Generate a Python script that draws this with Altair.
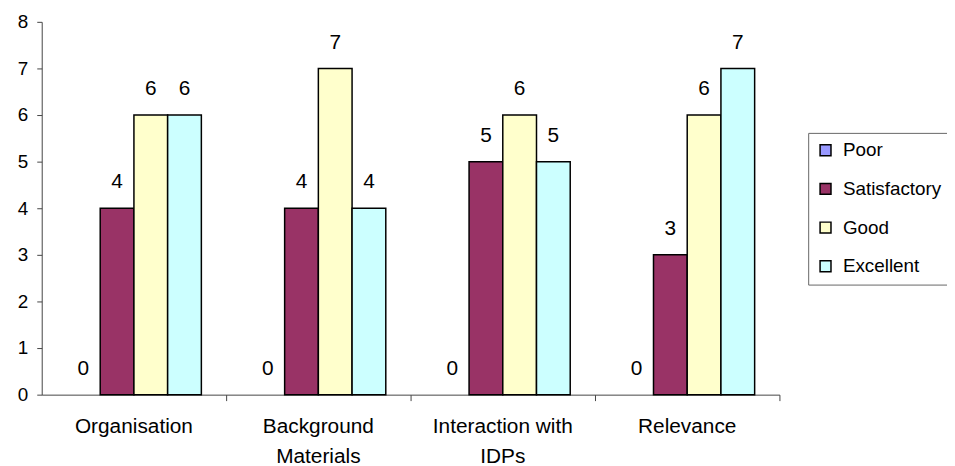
import altair as alt
import pandas as pd

categories = ["Organisation", "Background Materials", "Interaction with IDPs", "Relevance"]
series = ["Poor", "Satisfactory", "Good", "Excellent"]
poor = [0, 0, 0, 0]
satisfactory = [4, 4, 5, 3]
good = [6, 7, 6, 6]
excellent = [6, 4, 5, 7]
colors = ["#9999FF", "#993366", "#FFFFCC", "#CCFFFF"]
y_ticks = [0, 1, 2, 3, 4, 5, 6, 7, 8]
label_lines = {
    "Background Materials": ["Background", "Materials"],
    "Interaction with IDPs": ["Interaction with", "IDPs"],
}

rows = []
for s, vals in zip(series, [poor, satisfactory, good, excellent]):
    for c, v in zip(categories, vals):
        rows.append({"Category": c, "Rating": s, "Count": v})
df = pd.DataFrame(rows)

expr = "datum.value"
for k, lines in label_lines.items():
    arr = "[" + ", ".join("'" + l + "'" for l in lines) + "]"
    expr = f"datum.value == '{k}' ? {arr} : (" + expr + ")"

FONT = "Liberation Sans"

x = alt.X(
    "Category:N", sort=categories, title=None,
    scale=alt.Scale(domain=categories, paddingInner=0, paddingOuter=0),
    axis=alt.Axis(labelAngle=0, bandPosition=1, tickSize=6, labelPadding=15,
                  labelFontSize=21, labelLineHeight=30, labelExpr=expr,
                  labelColor="black", labelFont=FONT, domainColor="#444",
                  tickColor="#444", grid=False),
)
xo = alt.XOffset("Rating:N", sort=series,
                 scale=alt.Scale(domain=series, paddingInner=0, paddingOuter=0.735))
y = alt.Y(
    "Count:Q", title=None,
    scale=alt.Scale(domain=[0, 8], nice=False),
    axis=alt.Axis(values=y_ticks, grid=False, tickSize=5, labelPadding=9,
                  labelFontSize=19, labelColor="black", labelFont=FONT,
                  domainColor="#444", tickColor="#444"),
)

base = alt.Chart(df)

bars = base.transform_filter("datum.Count > 0").mark_bar(
    stroke="black", strokeWidth=1.5
).encode(
    x=x, xOffset=xo, y=y,
    color=alt.Color(
        "Rating:N", sort=series,
        scale=alt.Scale(domain=series, range=colors),
        legend=alt.Legend(
            title=None, orient="none", legendX=773, legendY=112,
            symbolType="square", symbolSize=121, symbolStrokeColor="black",
            symbolStrokeWidth=1.5, labelFontSize=19, labelFont=FONT,
            labelColor="black", labelOffset=8, rowPadding=19, padding=8,
            strokeColor="#666", fillColor="white",
        ),
    ),
)

labels = base.mark_text(
    baseline="middle", dy=-26, fontSize=21, font=FONT, color="black"
).encode(x=x, xOffset=xo, y=y, text="Count:Q")

chart = alt.layer(bars, labels).properties(
    width=744, height=376,
    autosize=alt.AutoSizeParams(type="none"),
    padding={"left": 34, "top": 12, "right": 169, "bottom": 70},
).configure_view(stroke=None)

chart.save("out.html", embed_options={"renderer": "svg", "actions": False})
